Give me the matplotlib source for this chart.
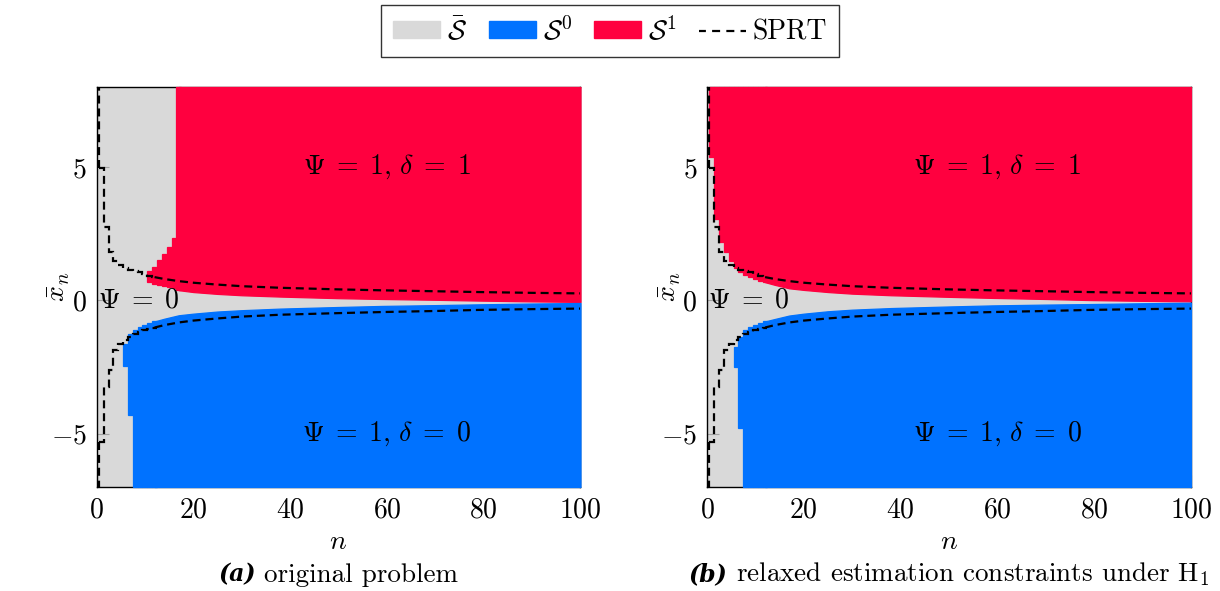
import numpy as np
import matplotlib
matplotlib.use("Agg")
import matplotlib.pyplot as plt
from matplotlib.patches import Patch
from matplotlib.lines import Line2D

plt.rcParams["font.family"] = "cmr10"
plt.rcParams["mathtext.fontset"] = "cm"
plt.rcParams["axes.formatter.use_mathtext"] = True

GREY = "#d9d9d9"
BLUE = "#0072ff"
RED = "#ff003f"

X_LIM = (0, 100)
Y_LIM = (-7, 8)
x_ticks = [0, 20, 40, 60, 80, 100]
y_ticks = [-5, 0, 5]

# ---- SPRT thresholds (same in both panels) ----
sprt_step_n = [1, 2, 3, 4, 5, 6, 7, 8, 9, 10, 11, 12]
sprt_up_step = [4.95, 2.75, 1.82, 1.48, 1.33, 1.20, 1.15, 1.10, 1.06, 1.00, 0.92, 0.87]
sprt_lo_step = [-5.30, -3.25, -2.60, -1.85, -1.65, -1.47, -1.37, -1.28, -1.20, -1.13, -1.07, -1.02]
sprt_line_n = [12, 14, 17, 20, 25, 30, 38, 50, 59, 70, 79, 90, 100]
sprt_up_line = [0.87, 0.80, 0.72, 0.66, 0.59, 0.53, 0.47, 0.41, 0.375, 0.34, 0.31, 0.28, 0.26]
sprt_lo_line = [-1.02, -0.93, -0.83, -0.76, -0.68, -0.61, -0.54, -0.48, -0.44, -0.40, -0.36, -0.33, -0.31]

# ---- panel (a): original problem ----
a_red_step_n = [11, 12, 13, 14, 15, 16, 17]
a_red_step_lo = [0.69, 0.62, 0.58, 0.54, 0.50, 0.45, 0.38]
a_red_step_hi = [1.10, 1.25, 1.50, 1.75, 2.00, 2.35, 8.0]
a_red_line_n = [17, 20, 25, 30, 38, 50, 59, 70, 79, 90, 100]
a_red_line_lo = [0.38, 0.31, 0.24, 0.19, 0.14, 0.08, 0.05, 0.02, -0.01, -0.04, -0.06]

a_blue_step_n = [6, 7, 8, 9, 10, 11, 12]
a_blue_step_hi = [-1.62, -1.28, -1.12, -1.00, -0.92, -0.85, -0.79]
a_blue_step_lo = [-2.46, -4.29, -7.0, -7.0, -7.0, -7.0, -7.0]
a_blue_line_n = [12, 14, 17, 20, 25, 30, 38, 50, 59, 70, 79, 90, 100]
a_blue_line_hi = [-0.79, -0.69, -0.56, -0.50, -0.42, -0.37, -0.31, -0.25, -0.21, -0.18, -0.15, -0.12, -0.10]

# ---- panel (b): relaxed estimation constraints under H1 ----
b_red_step_n = [1, 2, 3, 4, 5, 6, 7, 8, 9, 10, 11, 12]
b_red_step_lo = [5.37, 3.05, 2.20, 1.80, 1.48, 1.22, 1.06, 0.95, 0.87, 0.80, 0.74, 0.68]
b_red_step_hi = [8.0] * 12
b_red_line_n = [12, 14, 17, 20, 25, 30, 38, 50, 59, 70, 79, 90, 100]
b_red_line_lo = [0.68, 0.58, 0.45, 0.39, 0.31, 0.25, 0.19, 0.13, 0.09, 0.05, 0.01, -0.02, -0.04]

b_blue_step_n = [6, 7, 8, 9, 10, 11, 12]
b_blue_step_hi = [-1.75, -1.37, -1.12, -1.00, -0.92, -0.85, -0.79]
b_blue_step_lo = [-2.50, -4.80, -7.0, -7.0, -7.0, -7.0, -7.0]
b_blue_line_n = [12, 14, 17, 20, 25, 30, 38, 50, 59, 70, 79, 90, 100]
b_blue_line_hi = [-0.79, -0.70, -0.57, -0.50, -0.41, -0.35, -0.29, -0.23, -0.19, -0.16, -0.14, -0.11, -0.09]

region_labels = [r"$\Psi\;=\;1,\,\delta\;=\;1$", r"$\Psi\;=\;1,\,\delta\;=\;0$",
                 r"$\Psi\;=\;0$"]
legend_labels = [r"$\bar{\mathcal{S}}$", r"$\mathcal{S}^0$", r"$\mathcal{S}^1$", "SPRT"]
captions = [("(a)", "original problem"),
            ("(b)", r"relaxed estimation constraints under $\mathrm{H}_1$")]

FS = 20
LW = 1.6
DASH = (0, (3.6, 2.2))
DASH_LEG = (0.5, (3.6, 2.8))

fig = plt.figure(figsize=(12.2, 5.91), dpi=100)
ax_a = fig.add_axes([0.0791, 0.1760, 0.3967, 0.6768])
ax_b = fig.add_axes([0.5795, 0.1760, 0.3967, 0.6768])


def cells(ax, n, lo, hi, color):
    ax.bar(n, np.subtract(hi, lo), bottom=lo, width=1.0, color=color,
           edgecolor=color, linewidth=0.9, zorder=2, clip_on=False)


def draw_panel(ax, red_step, red_line, blue_step, blue_line):
    ax.set_facecolor(GREY)
    ax.set_xlim(*X_LIM)
    ax.set_ylim(*Y_LIM)
    cells(ax, red_step[0], red_step[1], red_step[2], RED)
    ax.fill_between(red_line[0], red_line[1], Y_LIM[1], color=RED,
                    edgecolor=RED, linewidth=0.9, zorder=2, clip_on=False)
    cells(ax, blue_step[0], blue_step[2], blue_step[1], BLUE)
    ax.fill_between(blue_line[0], Y_LIM[0], blue_line[1], color=BLUE,
                    edgecolor=BLUE, linewidth=0.9, zorder=2, clip_on=False)

    # SPRT thresholds
    edges = np.append(np.array(sprt_step_n) - 0.5, sprt_step_n[-1] + 0.5)
    for vals, line_vals, lim in ((sprt_up_step, sprt_up_line, Y_LIM[1]),
                                 (sprt_lo_step, sprt_lo_line, Y_LIM[0])):
        ax.stairs(vals, edges, baseline=None, color="k", lw=LW,
                  linestyle=DASH, zorder=5)
        ax.vlines(edges[0], vals[0], lim, color="k", lw=LW,
                  linestyle=DASH, zorder=5)
        ax.plot(sprt_line_n, line_vals, color="k", lw=LW, linestyle=DASH,
                zorder=5)

    ax.text(60, 5, region_labels[0], fontsize=FS, ha="center", va="center", zorder=6)
    ax.text(60, -5, region_labels[1], fontsize=FS, ha="center", va="center", zorder=6)
    ax.text(0.3, 0, region_labels[2], fontsize=FS, ha="left", va="center", zorder=6)

    ax.set_xticks(x_ticks)
    ax.set_yticks(y_ticks)
    ax.set_axisbelow(True)
    for sp in ax.spines.values():
        sp.set_zorder(1.5)
        sp.set_linewidth(1.0)
        sp.set_color("k")
    ax.tick_params(direction="in", length=8.6, width=0.8, color="#a0a0a0",
                   labelsize=FS, pad=7)
    ax.set_xlabel(r"$n$", fontsize=FS)
    ax.xaxis.set_label_coords(0.5, -0.105)
    ax.xaxis.label.set_va("top")
    ax.set_ylabel(r"$\bar{x}_n$", fontsize=FS)
    ax.yaxis.set_label_coords(-0.05, 0.5)


draw_panel(ax_a, (a_red_step_n, a_red_step_lo, a_red_step_hi),
           (a_red_line_n, a_red_line_lo),
           (a_blue_step_n, a_blue_step_hi, a_blue_step_lo),
           (a_blue_line_n, a_blue_line_hi))
draw_panel(ax_b, (b_red_step_n, b_red_step_lo, b_red_step_hi),
           (b_red_line_n, b_red_line_lo),
           (b_blue_step_n, b_blue_step_hi, b_blue_step_lo),
           (b_blue_line_n, b_blue_line_hi))

handles = [Patch(facecolor=GREY, edgecolor=GREY),
           Patch(facecolor=BLUE, edgecolor=BLUE),
           Patch(facecolor=RED, edgecolor=RED),
           Line2D([], [], color="k", lw=LW, linestyle=DASH_LEG)]
leg = fig.legend(handles, legend_labels, loc="upper center",
                 bbox_to_anchor=(0.5, 0.9915), ncol=4, fontsize=FS,
                 frameon=True, fancybox=False, borderpad=0.4,
                 handlelength=1.7, handleheight=0.57, handletextpad=0.25,
                 columnspacing=0.8, borderaxespad=0.0)
leg.get_frame().set_edgecolor("k")
leg.get_frame().set_linewidth(1.0)

# captions
fig.canvas.draw()
renderer = fig.canvas.get_renderer()
CAP_FS = 19.5
for ax, (lab, txt) in zip((ax_a, ax_b), captions):
    pos = ax.get_position()
    xc = 0.5 * (pos.x0 + pos.x1)
    t1 = fig.text(0, 0.016, lab, fontfamily="DejaVu Serif", fontweight="bold",
                  fontstyle="italic", fontsize=CAP_FS - 2.5, va="baseline")
    t2 = fig.text(0, 0.016, txt, fontsize=CAP_FS, va="baseline")
    w1 = t1.get_window_extent(renderer).width / fig.bbox.width
    w2 = t2.get_window_extent(renderer).width / fig.bbox.width
    gap = 0.3 * CAP_FS / 72 * fig.dpi / fig.bbox.width
    x0 = xc - (w1 + gap + w2) / 2
    t1.set_x(x0)
    t2.set_x(x0 + w1 + gap)

fig.savefig("out.png", dpi=100)
